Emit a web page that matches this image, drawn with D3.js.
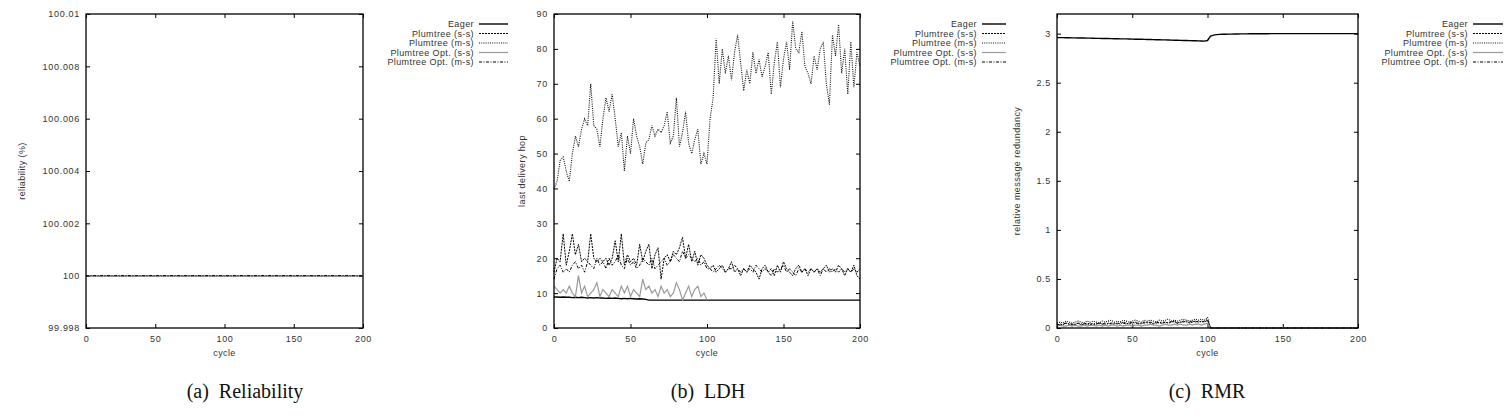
<!DOCTYPE html>
<html>
<head>
<meta charset="utf-8">
<script src="https://cdn.jsdelivr.net/npm/d3@7"></script>
<style>
body { margin: 0; background: #fff; }
.tick text { font-family: "Liberation Sans", Arial, sans-serif; font-size: 9px; fill: #333; letter-spacing: 0.7px; }
.lbl { font-family: "Liberation Sans", Arial, sans-serif; font-size: 9px; fill: #333; letter-spacing: 0.4px; }
.caption { font-family: "Liberation Serif", "Times New Roman", serif; font-size: 20px; fill: #111; white-space: pre; }
</style>
</head>
<body>
<div id="chart"></div>
<script>
const FRAME_WIDTH = 1507;
const FRAME_HEIGHT = 420;
const PLOT_TOP = 14;
const PLOT_BOTTOM = 328;

const SERIES_NAMES = ["Eager", "Plumtree (s-s)", "Plumtree (m-s)", "Plumtree Opt. (s-s)", "Plumtree Opt. (m-s)"];
const X_TICKS = [0, 50, 100, 150, 200];

// sample cycles (every 2 cycles)
const CYCLES = d3.range(0, 201, 2);

// (a) reliability - everything sits on 100
const REL_CYCLES = [0, 200];
const REL_EAGER = [100, 100];
const REL_SS = [100, 100];
const REL_MS = [100, 100];
const REL_OPT_SS = [100, 100];
const REL_OPT_MS = [100, 100];
const REL_TICKS = [99.998, 100, 100.002, 100.004, 100.006, 100.008, 100.01];
const REL_TICK_LABELS = ["99.998", "100", "100.002", "100.004", "100.006", "100.008", "100.01"];

// (b) last delivery hop
const LDH_EAGER = [
  8.9, 8.9, 8.8, 8.9, 8.8, 8.8, 8.7, 8.8, 8.7, 8.8, 8.7, 8.6, 8.7, 8.6, 8.7, 8.6, 8.6, 8.5, 8.6, 8.5,
  8.6, 8.5, 8.4, 8.5, 8.4, 8.5, 8.4, 8.3, 8.4, 8.3, 8.2,
  8, 8, 8, 8, 8, 8, 8, 8, 8, 8, 8, 8, 8, 8, 8, 8, 8, 8, 8, 8,
  8, 8, 8, 8, 8, 8, 8, 8, 8, 8, 8, 8, 8, 8, 8, 8, 8, 8, 8, 8,
  8, 8, 8, 8, 8, 8, 8, 8, 8, 8, 8, 8, 8, 8, 8, 8, 8, 8, 8, 8,
  8, 8, 8, 8, 8, 8, 8, 8, 8, 8];
const LDH_SS = [
  16, 20, 19, 27, 18, 22, 27, 21, 24, 19, 20, 19, 27, 20, 19, 20, 19, 20, 18, 20,
  25, 19, 27, 18, 21, 19, 20, 18, 24, 19, 22, 24, 17, 21, 23, 14, 20, 21, 19, 22,
  21, 23, 26, 20, 24, 19, 22, 18, 21, 20, 18,
  17, 18, 16, 17, 18, 16, 17, 19, 16, 17, 15, 17, 16, 18, 17, 16, 14, 17, 18, 16,
  17, 15, 18, 16, 19, 17, 16, 15, 17, 18, 16, 17, 15, 17, 16, 17, 16, 17, 18, 16,
  17, 16, 18, 17, 15, 17, 16, 18, 15, 14];
const LDH_MS = [
  40, 42, 48, 49, 45, 42, 50, 55, 52, 57, 60, 58, 70, 58, 57, 52, 60, 66, 62, 67,
  60, 52, 56, 45, 55, 50, 60, 55, 52, 47, 53, 54, 58, 55, 57, 56, 58, 62, 53, 55,
  66, 52, 56, 62, 53, 50, 54, 57, 47, 50, 47,
  60, 66, 83, 70, 80, 73, 78, 71, 79, 84, 76, 68, 74, 70, 79, 73, 77, 72, 75, 79,
  67, 76, 82, 69, 77, 82, 74, 88, 80, 79, 85, 75, 73, 70, 78, 74, 80, 82, 70, 64,
  84, 78, 87, 73, 80, 67, 82, 69, 79, 75];
// only runs up to cycle 100
const LDH_OPT_SS = [
  12, 11, 10, 11, 10, 12, 10, 9, 15, 10, 12, 9, 10, 11, 13, 9, 11, 10, 9, 11,
  10, 9, 12, 10, 12, 9, 11, 10, 9, 14, 11, 12, 10, 11, 9, 12, 10, 11, 9, 10,
  13, 11, 8, 10, 12, 9, 11, 12, 9, 10, 8];
const LDH_OPT_MS = [
  14, 17, 18, 16, 17, 16, 18, 19, 17, 18, 16, 19, 18, 17, 20, 18, 19, 17, 20, 18,
  19, 21, 18, 17, 20, 18, 19, 17, 18, 20, 19, 18, 20, 17, 18, 19, 20, 18, 19, 21,
  20, 19, 22, 20, 21, 20, 19, 20, 18, 19, 17,
  17, 16, 17, 18, 17, 16, 17, 17, 18, 17, 16, 17, 16, 17, 16, 18, 17, 16, 17, 16,
  15, 17, 16, 17, 18, 16, 17, 16, 15, 17, 16, 17, 16, 17, 16, 17, 15, 17, 16, 17,
  16, 17, 16, 17, 16, 17, 16, 17, 16, 17];
const LDH_TICKS = [0, 10, 20, 30, 40, 50, 60, 70, 80, 90];

// (c) relative message redundancy
const RMR_EAGER = [
  2.960, 2.959, 2.959, 2.958, 2.958, 2.957, 2.957, 2.956, 2.955, 2.955,
  2.954, 2.954, 2.953, 2.952, 2.952, 2.951, 2.950, 2.950, 2.949, 2.948,
  2.948, 2.947, 2.946, 2.946, 2.945, 2.944, 2.943, 2.943, 2.942, 2.941,
  2.940, 2.940, 2.939, 2.938, 2.937, 2.936, 2.936, 2.935, 2.934, 2.933,
  2.932, 2.931, 2.930, 2.930, 2.929, 2.928, 2.927, 2.926, 2.925, 2.924, 2.930,
  2.975, 2.985, 2.990, 2.992, 2.993, 2.994, 2.995, 2.995, 2.996, 2.996,
  2.997, 2.997, 2.997, 2.998, 2.998, 2.998, 2.998, 2.999, 2.999, 2.999,
  3.0, 3.0, 3.0, 3.0, 3.0, 3.0, 3.0, 3.0, 3.0, 3.0, 3.0, 3.0, 3.0, 3.0,
  3.0, 3.0, 3.0, 3.0, 3.0, 3.0, 3.0, 3.0, 3.0, 3.0, 3.0, 3.0, 3.0, 3.0, 3.0, 3.0];
const RMR_SS = [
  0.03, 0.04, 0.03, 0.05, 0.04, 0.03, 0.04, 0.05, 0.03, 0.04, 0.04, 0.05, 0.03, 0.04, 0.05, 0.04, 0.03,
  0.05, 0.04, 0.04, 0.05, 0.04, 0.06, 0.05, 0.04, 0.05, 0.06, 0.04, 0.05, 0.05, 0.06, 0.05, 0.04, 0.06,
  0.05, 0.05, 0.06, 0.05, 0.06, 0.07, 0.05, 0.06, 0.06, 0.07, 0.05, 0.06, 0.07, 0.06, 0.07, 0.06, 0.08,
  0, 0, 0, 0, 0, 0, 0, 0, 0, 0, 0, 0, 0, 0, 0, 0, 0, 0, 0, 0, 0, 0, 0, 0, 0,
  0, 0, 0, 0, 0, 0, 0, 0, 0, 0, 0, 0, 0, 0, 0, 0, 0, 0, 0, 0, 0, 0, 0, 0, 0];
const RMR_MS = [
  0.05, 0.06, 0.05, 0.07, 0.06, 0.05, 0.06, 0.07, 0.06, 0.05, 0.07, 0.06, 0.07, 0.06, 0.05, 0.07, 0.06,
  0.07, 0.08, 0.06, 0.07, 0.06, 0.08, 0.07, 0.06, 0.07, 0.08, 0.07, 0.06, 0.08, 0.07, 0.08, 0.07, 0.06,
  0.08, 0.07, 0.08, 0.09, 0.07, 0.08, 0.07, 0.08, 0.09, 0.08, 0.07, 0.08, 0.09, 0.08, 0.09, 0.08, 0.11,
  0, 0, 0, 0, 0, 0, 0, 0, 0, 0, 0, 0, 0, 0, 0, 0, 0, 0, 0, 0, 0, 0, 0, 0, 0,
  0, 0, 0, 0, 0, 0, 0, 0, 0, 0, 0, 0, 0, 0, 0, 0, 0, 0, 0, 0, 0, 0, 0, 0, 0];
const RMR_OPT_SS = [
  0.02, 0.03, 0.02, 0.02, 0.03, 0.02, 0.03, 0.02, 0.02, 0.03, 0.02, 0.03, 0.03, 0.02, 0.03, 0.02, 0.03,
  0.02, 0.03, 0.03, 0.02, 0.03, 0.02, 0.03, 0.03, 0.02, 0.03, 0.03, 0.02, 0.03, 0.03, 0.04, 0.03, 0.03,
  0.02, 0.03, 0.04, 0.03, 0.03, 0.04, 0.03, 0.04, 0.03, 0.03, 0.04, 0.03, 0.04, 0.04, 0.03, 0.04, 0.05,
  0, 0, 0, 0, 0, 0, 0, 0, 0, 0, 0, 0, 0, 0, 0, 0, 0, 0, 0, 0, 0, 0, 0, 0, 0,
  0, 0, 0, 0, 0, 0, 0, 0, 0, 0, 0, 0, 0, 0, 0, 0, 0, 0, 0, 0, 0, 0, 0, 0, 0];
const RMR_OPT_MS = [
  0.04, 0.03, 0.04, 0.05, 0.04, 0.04, 0.03, 0.05, 0.04, 0.05, 0.04, 0.03, 0.05, 0.04, 0.05, 0.04, 0.05,
  0.04, 0.05, 0.05, 0.04, 0.06, 0.05, 0.04, 0.05, 0.06, 0.05, 0.05, 0.04, 0.06, 0.05, 0.06, 0.05, 0.05,
  0.06, 0.05, 0.06, 0.05, 0.07, 0.06, 0.05, 0.06, 0.07, 0.06, 0.06, 0.07, 0.06, 0.07, 0.06, 0.07, 0.09,
  0, 0, 0, 0, 0, 0, 0, 0, 0, 0, 0, 0, 0, 0, 0, 0, 0, 0, 0, 0, 0, 0, 0, 0, 0,
  0, 0, 0, 0, 0, 0, 0, 0, 0, 0, 0, 0, 0, 0, 0, 0, 0, 0, 0, 0, 0, 0, 0, 0, 0];
const RMR_TICKS = [0, 0.5, 1, 1.5, 2, 2.5, 3];
const RMR_TICK_LABELS = ["0", "0.5", "1", "1.5", "2", "2.5", "3"];

// gnuplot-ish line styles, same order as SERIES_NAMES
const LINE_STYLES = [
  {stroke: "#000", width: 1.4, dash: null},
  {stroke: "#000", width: 1, dash: "2,1"},
  {stroke: "#111", width: 1.1, dash: "1,1.2"},
  {stroke: "#999", width: 1.2, dash: null},
  {stroke: "#000", width: 1, dash: "3,1.5,1,1.5"}
];

const PANELS = [
  {left: 86, right: 363, domain: [99.998, 100.01], ticks: REL_TICKS, labels: REL_TICK_LABELS,
   yLabel: "reliability (%)", yLabelX: 25, legendX: 474, legendEnd: 508,
   caption: "(a)  Reliability", captionX: 245,
   series: [[REL_CYCLES, REL_EAGER], [REL_CYCLES, REL_SS], [REL_CYCLES, REL_MS], [REL_CYCLES, REL_OPT_SS], [REL_CYCLES, REL_OPT_MS]]},
  {left: 554, right: 860, domain: [0, 90], ticks: LDH_TICKS, labels: LDH_TICKS.map(String),
   yLabel: "last delivery hop", yLabelX: 525, legendX: 977, legendEnd: 1006,
   caption: "(b)  LDH", captionX: 708,
   series: [[CYCLES, LDH_EAGER], [CYCLES, LDH_SS], [CYCLES, LDH_MS], [CYCLES.slice(0, LDH_OPT_SS.length), LDH_OPT_SS], [CYCLES, LDH_OPT_MS]]},
  {left: 1057, right: 1358, domain: [0, 3.2], ticks: RMR_TICKS, labels: RMR_TICK_LABELS,
   yLabel: "relative message redundancy", yLabelX: 1020, legendX: 1468, legendEnd: 1503,
   caption: "(c)  RMR", captionX: 1207,
   series: [[CYCLES, RMR_EAGER], [CYCLES, RMR_SS], [CYCLES, RMR_MS], [CYCLES, RMR_OPT_SS], [CYCLES, RMR_OPT_MS]]}
];

const SVG = d3.select("#chart")
              .append("svg")
                .attr("width", FRAME_WIDTH)
                .attr("height", FRAME_HEIGHT)
                .style("background", "#fff");

function drawPanel(p) {
  const X_SCALE = d3.scaleLinear().domain([0, 200]).range([p.left, p.right]);
  const Y_SCALE = d3.scaleLinear().domain(p.domain).range([PLOT_BOTTOM, PLOT_TOP]);
  const g = SVG.append("g");

  // ticks point inward on all four sides, labels only left/bottom
  g.append("g")
    .attr("transform", "translate(" + p.left + ",0)")
    .call(d3.axisLeft(Y_SCALE).tickValues(p.ticks).tickSize(-4).tickPadding(6)
            .tickFormat((d, i) => p.labels[i]));
  g.append("g")
    .attr("transform", "translate(" + p.right + ",0)")
    .call(d3.axisRight(Y_SCALE).tickValues(p.ticks).tickSize(-4).tickFormat(""));
  g.append("g")
    .attr("transform", "translate(0," + PLOT_BOTTOM + ")")
    .call(d3.axisBottom(X_SCALE).tickValues(X_TICKS).tickSize(-4).tickPadding(8));
  g.append("g")
    .attr("transform", "translate(0," + PLOT_TOP + ")")
    .call(d3.axisTop(X_SCALE).tickValues(X_TICKS).tickSize(-4).tickFormat(""));
  g.selectAll(".domain").remove();
  g.selectAll(".tick line").attr("stroke", "#000").attr("stroke-width", 1);

  // data lines
  const line = d3.line().x((d) => X_SCALE(d[0])).y((d) => Y_SCALE(d[1]));
  p.series.forEach((s, i) => {
    const pts = s[0].map((c, j) => [c, s[1][j]]);
    const st = LINE_STYLES[i];
    g.append("path")
      .attr("d", line(pts))
      .attr("fill", "none")
      .attr("stroke", st.stroke)
      .attr("stroke-width", st.width)
      .attr("stroke-dasharray", st.dash);
  });

  // frame
  g.append("rect")
    .attr("x", p.left).attr("y", PLOT_TOP)
    .attr("width", p.right - p.left).attr("height", PLOT_BOTTOM - PLOT_TOP)
    .attr("fill", "none").attr("stroke", "#000").attr("stroke-width", 1.3);

  // axis titles
  g.append("text").attr("class", "lbl")
    .attr("x", (p.left + p.right) / 2).attr("y", 356)
    .attr("text-anchor", "middle").text("cycle");
  g.append("text").attr("class", "lbl")
    .attr("transform", "translate(" + p.yLabelX + "," + ((PLOT_TOP + PLOT_BOTTOM) / 2) + ") rotate(-90)")
    .attr("text-anchor", "middle").text(p.yLabel);

  // legend
  SERIES_NAMES.forEach((name, i) => {
    const y = 24 + i * 9.5;
    const st = LINE_STYLES[i];
    g.append("text").attr("class", "lbl")
      .attr("x", p.legendX).attr("y", y).attr("dy", "0.35em")
      .attr("text-anchor", "end").text(name);
    g.append("line")
      .attr("x1", p.legendX + 5).attr("x2", p.legendEnd)
      .attr("y1", y).attr("y2", y)
      .attr("stroke", st.stroke).attr("stroke-width", st.width)
      .attr("stroke-dasharray", st.dash);
  });

  // caption
  g.append("text").attr("class", "caption")
    .attr("x", p.captionX).attr("y", 398)
    .attr("text-anchor", "middle").text(p.caption);
}

PANELS.forEach(drawPanel);
</script>
</body>
</html>
